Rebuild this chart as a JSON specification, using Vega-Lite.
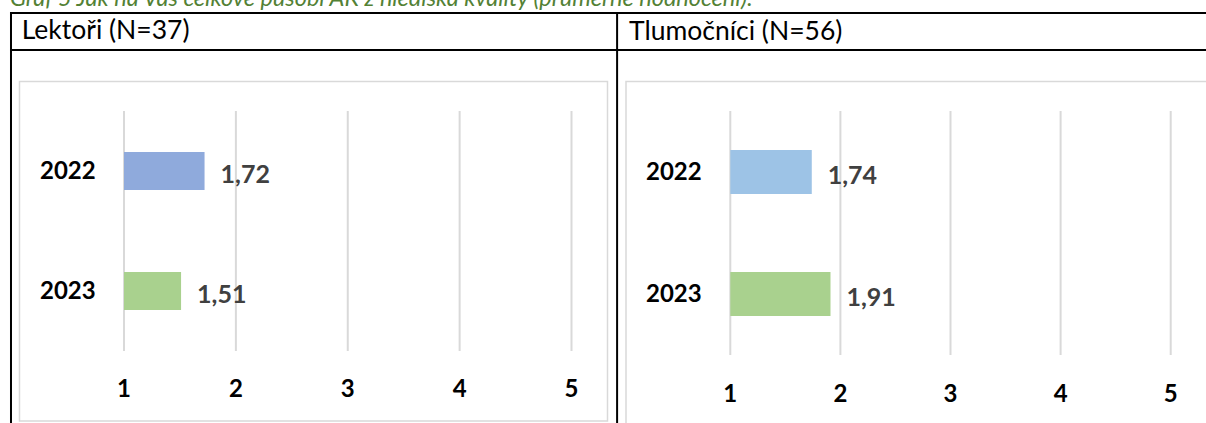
{
  "$schema": "https://vega.github.io/schema/vega-lite/v6.json",
  "width": 1206,
  "height": 423,
  "autosize": "none",
  "padding": 0,
  "background": "white",
  "config": {"view": {"stroke": null}, "font": "Lato", "scale": {"continuousPadding": 0}},
  "datasets": {
    "lektori": [{"year": 2022, "value": 1.72}, {"year": 2023, "value": 1.51}],
    "tlumocnici": [{"year": 2022, "value": 1.74}, {"year": 2023, "value": 1.91}],
    "ticks": [{"g": 1}, {"g": 2}, {"g": 3}, {"g": 4}, {"g": 5}]
  },
  "layer": [
    {
      "layer": [
        {
          "data": {"values": [{"part": "chart area"}]},
          "mark": {"type": "rect", "filled": false, "stroke": "#d9d9d9", "strokeWidth": 1.5},
          "encoding": {
            "x": {"datum": 0.0659, "type": "quantitative", "scale": {"domain": [1, 5], "range": [124, 571.5], "nice": false, "zero": false, "padding": 0}, "axis": null},
            "x2": {"datum": 5.3218},
            "y": {"datum": 2021.254, "type": "quantitative", "scale": {"domain": [2022, 2023], "range": [171, 291], "nice": false, "zero": false, "padding": 0}, "axis": null},
            "y2": {"datum": 2024.083}
          }
        },
        {
          "data": {"name": "ticks"},
          "mark": {"type": "rule", "color": "#d9d9d9", "strokeWidth": 2},
          "encoding": {
            "x": {"field": "g", "type": "quantitative", "scale": {"domain": [1, 5], "range": [124, 571.5], "nice": false, "zero": false, "padding": 0}, "axis": null},
            "y": {"datum": 2021.5, "type": "quantitative", "scale": {"domain": [2022, 2023], "range": [171, 291], "nice": false, "zero": false, "padding": 0}, "axis": null},
            "y2": {"datum": 2023.5}
          }
        },
        {
          "data": {"name": "lektori"},
          "mark": {"type": "bar", "orient": "horizontal", "size": 38},
          "encoding": {
            "x": {"field": "value", "type": "quantitative", "scale": {"domain": [1, 5], "range": [124, 571.5], "nice": false, "zero": false, "padding": 0}, "axis": null},
            "x2": {"datum": 1},
            "y": {"field": "year", "type": "quantitative", "scale": {"domain": [2022, 2023], "range": [171, 291], "nice": false, "zero": false, "padding": 0}, "axis": null},
            "color": {"field": "year", "type": "nominal", "scale": {"domain": [2022, 2023], "range": ["#8faadc", "#a9d18e"]}, "legend": null}
          }
        },
        {
          "data": {"name": "lektori"},
          "mark": {"type": "text", "align": "left", "baseline": "middle", "dx": 16, "dy": 3.5, "font": "Lato", "fontSize": 25, "fontWeight": "bold", "color": "#404040",
                   "text": {"expr": "replace(format(datum.value, '.2f'), '.', ',')"}},
          "encoding": {
            "x": {"field": "value", "type": "quantitative", "scale": {"domain": [1, 5], "range": [124, 571.5], "nice": false, "zero": false, "padding": 0}, "axis": null},
            "y": {"field": "year", "type": "quantitative", "scale": {"domain": [2022, 2023], "range": [171, 291], "nice": false, "zero": false, "padding": 0}, "axis": null}
          }
        },
        {
          "data": {"name": "lektori"},
          "mark": {"type": "text", "align": "right", "baseline": "middle", "dy": 1, "font": "Lato", "fontSize": 24, "fontWeight": "bold", "color": "#000000"},
          "encoding": {
            "x": {"datum": 0.747, "type": "quantitative", "scale": {"domain": [1, 5], "range": [124, 571.5], "nice": false, "zero": false, "padding": 0}, "axis": null},
            "y": {"field": "year", "type": "quantitative", "scale": {"domain": [2022, 2023], "range": [171, 291], "nice": false, "zero": false, "padding": 0}, "axis": null},
            "text": {"field": "year", "type": "nominal"}
          }
        },
        {
          "data": {"name": "ticks"},
          "mark": {"type": "text", "align": "center", "baseline": "middle", "dy": 1.5, "font": "Lato", "fontSize": 24, "fontWeight": "bold", "color": "#000000"},
          "encoding": {
            "x": {"field": "g", "type": "quantitative", "scale": {"domain": [1, 5], "range": [124, 571.5], "nice": false, "zero": false, "padding": 0}, "axis": null},
            "y": {"datum": 2023.815, "type": "quantitative", "scale": {"domain": [2022, 2023], "range": [171, 291], "nice": false, "zero": false, "padding": 0}, "axis": null},
            "text": {"field": "g", "type": "nominal"}
          }
        },
        {
          "data": {"values": [{"panel": "Lektoři (N=37)"}]},
          "mark": {"type": "text", "align": "left", "baseline": "alphabetic", "font": "Lato", "fontSize": 26.5, "color": "#000000"},
          "encoding": {
            "x": {"datum": 0.0856, "type": "quantitative", "scale": {"domain": [1, 5], "range": [124, 571.5], "nice": false, "zero": false, "padding": 0}, "axis": null},
            "y": {"datum": 2020.904, "type": "quantitative", "scale": {"domain": [2022, 2023], "range": [171, 291], "nice": false, "zero": false, "padding": 0}, "axis": null},
            "text": {"field": "panel", "type": "nominal"}
          }
        },
        {
          "data": {"values": [{"caption": "Graf 5 Jak na Vás celkově působí AK z hlediska kvality (průměrné hodnocení):"}]},
          "mark": {"type": "text", "align": "left", "baseline": "alphabetic", "font": "Lato", "fontSize": 23.5, "fontStyle": "italic", "color": "#538135"},
          "encoding": {
            "x": {"datum": -0.019, "type": "quantitative", "scale": {"domain": [1, 5], "range": [124, 571.5], "nice": false, "zero": false, "padding": 0}, "axis": null},
            "y": {"datum": 2020.625, "type": "quantitative", "scale": {"domain": [2022, 2023], "range": [171, 291], "nice": false, "zero": false, "padding": 0}, "axis": null},
            "text": {"field": "caption", "type": "nominal"}
          }
        },
        {
          "data": {"values": [{"line": "table top"}]},
          "mark": {"type": "rule", "color": "#000000", "strokeWidth": 2},
          "encoding": {
            "x": {"datum": -0.019, "type": "quantitative", "scale": {"domain": [1, 5], "range": [124, 571.5], "nice": false, "zero": false, "padding": 0}, "axis": null},
            "x2": {"datum": 11.0},
            "y": {"datum": 2020.683, "type": "quantitative", "scale": {"domain": [2022, 2023], "range": [171, 291], "nice": false, "zero": false, "padding": 0}, "axis": null}
          }
        },
        {
          "data": {"values": [{"line": "header separator"}]},
          "mark": {"type": "rule", "color": "#000000", "strokeWidth": 2},
          "encoding": {
            "x": {"datum": -0.019, "type": "quantitative", "scale": {"domain": [1, 5], "range": [124, 571.5], "nice": false, "zero": false, "padding": 0}, "axis": null},
            "x2": {"datum": 11.0},
            "y": {"datum": 2020.992, "type": "quantitative", "scale": {"domain": [2022, 2023], "range": [171, 291], "nice": false, "zero": false, "padding": 0}, "axis": null}
          }
        },
        {
          "data": {"values": [{"line": "table left"}]},
          "mark": {"type": "rule", "color": "#000000", "strokeWidth": 2},
          "encoding": {
            "x": {"datum": -0.0101, "type": "quantitative", "scale": {"domain": [1, 5], "range": [124, 571.5], "nice": false, "zero": false, "padding": 0}, "axis": null},
            "y": {"datum": 2020.675, "type": "quantitative", "scale": {"domain": [2022, 2023], "range": [171, 291], "nice": false, "zero": false, "padding": 0}, "axis": null},
            "y2": {"datum": 2024.3}
          }
        },
        {
          "data": {"values": [{"line": "table middle"}]},
          "mark": {"type": "rule", "color": "#000000", "strokeWidth": 2},
          "encoding": {
            "x": {"datum": 5.4076, "type": "quantitative", "scale": {"domain": [1, 5], "range": [124, 571.5], "nice": false, "zero": false, "padding": 0}, "axis": null},
            "y": {"datum": 2020.675, "type": "quantitative", "scale": {"domain": [2022, 2023], "range": [171, 291], "nice": false, "zero": false, "padding": 0}, "axis": null},
            "y2": {"datum": 2024.3}
          }
        }
      ]
    },
    {
      "layer": [
        {
          "data": {"values": [{"part": "chart area"}]},
          "mark": {"type": "rect", "filled": false, "stroke": "#d9d9d9", "strokeWidth": 1.5},
          "encoding": {
            "x": {"datum": 0.0527, "type": "quantitative", "scale": {"domain": [1, 5], "range": [730.3, 1170.7], "nice": false, "zero": false, "padding": 0}, "axis": null},
            "x2": {"datum": 5.45},
            "y": {"datum": 2021.258, "type": "quantitative", "scale": {"domain": [2022, 2023], "range": [172, 294], "nice": false, "zero": false, "padding": 0}, "axis": null},
            "y2": {"datum": 2024.2}
          }
        },
        {
          "data": {"name": "ticks"},
          "mark": {"type": "rule", "color": "#d9d9d9", "strokeWidth": 2},
          "encoding": {
            "x": {"field": "g", "type": "quantitative", "scale": {"domain": [1, 5], "range": [730.3, 1170.7], "nice": false, "zero": false, "padding": 0}, "axis": null},
            "y": {"datum": 2021.5, "type": "quantitative", "scale": {"domain": [2022, 2023], "range": [172, 294], "nice": false, "zero": false, "padding": 0}, "axis": null},
            "y2": {"datum": 2023.5}
          }
        },
        {
          "data": {"name": "tlumocnici"},
          "mark": {"type": "bar", "orient": "horizontal", "size": 44},
          "encoding": {
            "x": {"field": "value", "type": "quantitative", "scale": {"domain": [1, 5], "range": [730.3, 1170.7], "nice": false, "zero": false, "padding": 0}, "axis": null},
            "x2": {"datum": 1},
            "y": {"field": "year", "type": "quantitative", "scale": {"domain": [2022, 2023], "range": [172, 294], "nice": false, "zero": false, "padding": 0}, "axis": null},
            "color": {"field": "year", "type": "nominal", "scale": {"domain": [2022, 2023], "range": ["#9dc3e6", "#a9d18e"]}, "legend": null}
          }
        },
        {
          "data": {"name": "tlumocnici"},
          "mark": {"type": "text", "align": "left", "baseline": "middle", "dx": 16, "dy": 3.5, "font": "Lato", "fontSize": 25, "fontWeight": "bold", "color": "#404040",
                   "text": {"expr": "replace(format(datum.value, '.2f'), '.', ',')"}},
          "encoding": {
            "x": {"field": "value", "type": "quantitative", "scale": {"domain": [1, 5], "range": [730.3, 1170.7], "nice": false, "zero": false, "padding": 0}, "axis": null},
            "y": {"field": "year", "type": "quantitative", "scale": {"domain": [2022, 2023], "range": [172, 294], "nice": false, "zero": false, "padding": 0}, "axis": null}
          }
        },
        {
          "data": {"name": "tlumocnici"},
          "mark": {"type": "text", "align": "right", "baseline": "middle", "dy": 1, "font": "Lato", "fontSize": 24, "fontWeight": "bold", "color": "#000000"},
          "encoding": {
            "x": {"datum": 0.7402, "type": "quantitative", "scale": {"domain": [1, 5], "range": [730.3, 1170.7], "nice": false, "zero": false, "padding": 0}, "axis": null},
            "y": {"field": "year", "type": "quantitative", "scale": {"domain": [2022, 2023], "range": [172, 294], "nice": false, "zero": false, "padding": 0}, "axis": null},
            "text": {"field": "year", "type": "nominal"}
          }
        },
        {
          "data": {"name": "ticks"},
          "mark": {"type": "text", "align": "center", "baseline": "middle", "dy": 1.5, "font": "Lato", "fontSize": 24, "fontWeight": "bold", "color": "#000000"},
          "encoding": {
            "x": {"field": "g", "type": "quantitative", "scale": {"domain": [1, 5], "range": [730.3, 1170.7], "nice": false, "zero": false, "padding": 0}, "axis": null},
            "y": {"datum": 2023.815, "type": "quantitative", "scale": {"domain": [2022, 2023], "range": [172, 294], "nice": false, "zero": false, "padding": 0}, "axis": null},
            "text": {"field": "g", "type": "nominal"}
          }
        },
        {
          "data": {"values": [{"panel": "Tlumočníci (N=56)"}]},
          "mark": {"type": "text", "align": "left", "baseline": "alphabetic", "font": "Lato", "fontSize": 26.5, "color": "#000000"},
          "encoding": {
            "x": {"datum": 0.0799, "type": "quantitative", "scale": {"domain": [1, 5], "range": [730.3, 1170.7], "nice": false, "zero": false, "padding": 0}, "axis": null},
            "y": {"datum": 2020.914, "type": "quantitative", "scale": {"domain": [2022, 2023], "range": [172, 294], "nice": false, "zero": false, "padding": 0}, "axis": null},
            "text": {"field": "panel", "type": "nominal"}
          }
        }
      ]
    }
  ],
  "resolve": {"scale": {"x": "independent", "y": "independent", "color": "independent"}}
}
